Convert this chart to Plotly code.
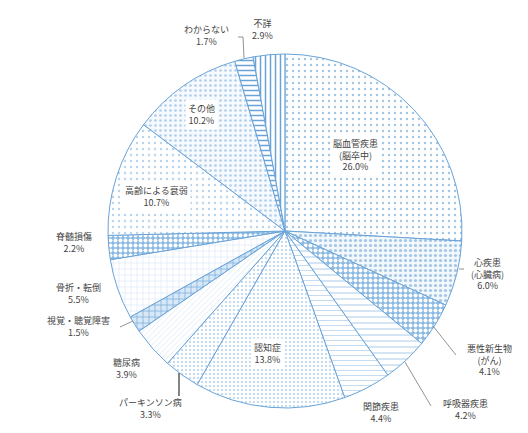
import plotly.graph_objects as go

# ---- data ----
categories = ["脳血管疾患<br>(脳卒中)", "心疾患<br>(心臓病)", "悪性新生物<br>(がん)", "呼吸器疾患",
              "関節疾患", "認知症", "パーキンソン病", "糖尿病", "視覚・聴覚障害", "骨折・転倒",
              "脊髄損傷", "高齢による衰弱", "その他", "わからない", "不詳"]
values = [26.0, 6.0, 4.1, 4.2, 4.4, 13.8, 3.3, 3.9, 1.5, 5.5, 2.2, 10.7, 10.2, 1.7, 2.9]

# ---- styles ----
W, H = 528, 433
CX, CY, R = 277, 223, 177

pat_shape = [".", ".", ".", "-", "-", ".", ".", "/", "+", "+", ".", ".", ".", "-", "|"]
pat_bg = ["#ffffff", "#f3f8fc", "#8ab9e2", "#ffffff", "#ffffff", "#ffffff", "#ffffff", "#ffffff",
          "#d8e8f6", "#ffffff", "#8ab9e2", "#ffffff", "#f6f9fd", "#ffffff", "#ffffff"]
pat_fg = ["#a3c6e6", "#a3c6e6", "#ffffff", "#9fc4e6", "#b0cfeb", "#b0cfeb", "#b0cfeb", "#c0daf1",
          "#6aa3d8", "#c0daf1", "#ffffff", "#b8d4ee", "#b0cfeb", "#6aa3d8", "#6aa3d8"]
pat_size = [6, 5, 5, 6, 5, 4, 4, 4, 6, 6, 5, 6, 5, 5, 5]
pat_sol = [0.12, 0.3, 0.5, 0.15, 0.15, 0.18, 0.2, 0.12, 0.2, 0.12, 0.5, 0.12, 0.22, 0.3, 0.3]

# label block centres (pixel) and leader lines (pixel)
label_pos = [(347, 147), (479, 266), (481, 352), (457, 401), (373, 404), (259, 345), (142, 400),
             (118, 360), (70, 318), (70, 285), (66, 234), (148, 189), (193, 107), (198, 28), (254, 22)]
inside = [True, False, False, False, False, True, False, False, False, False, False, True, True, False, False]
leaders = [
    [(451, 261), (456, 261)],
    [(425, 318), (448, 347)],
    [(397, 354), (423, 398)],
    [(171, 365), (171, 388)],
    [(112, 319), (125, 313)],
    [(230, 29), (235, 29), (236, 50)],
]

fig = go.Figure()
fig.add_trace(go.Pie(
    labels=categories, values=values, sort=False, direction="clockwise", rotation=0,
    textinfo="none", hoverinfo="label+value", showlegend=False,
    domain=dict(x=[(CX - R) / W, (CX + R) / W], y=[1 - (CY + R) / H, 1 - (CY - R) / H]),
    marker=dict(
        line=dict(color="#6aa3d8", width=1),
        pattern=dict(shape=pat_shape, bgcolor=pat_bg, fgcolor=pat_fg, size=pat_size,
                     solidity=pat_sol, fillmode="replace"),
    ),
))

def px(x):
    return x / W

def py(y):
    return 1 - y / H

for cat, v, (x, y), ins in zip(categories, values, label_pos, inside):
    fig.add_annotation(x=px(x), y=py(y), xref="paper", yref="paper", showarrow=False,
                       text=f"{cat}<br>{v:.1f}%", align="center", xanchor="center", yanchor="middle",
                       bgcolor="white" if ins else None, borderpad=2,
                       font=dict(family="Noto Sans CJK JP", size=9, color="#444444"))

for i, pts in enumerate(leaders):
    path = "M " + " L ".join(f"{px(a)},{py(b)}" for a, b in pts)
    fig.add_shape(type="path", path=path, xref="paper", yref="paper",
                  line=dict(color="#333333" if i == 3 else "#777777", width=1.2 if i == 3 else 0.8))

fig.update_layout(width=W, height=H, margin=dict(l=0, r=0, t=0, b=0),
                  paper_bgcolor="white", plot_bgcolor="white")

fig.write_html("out.html")
